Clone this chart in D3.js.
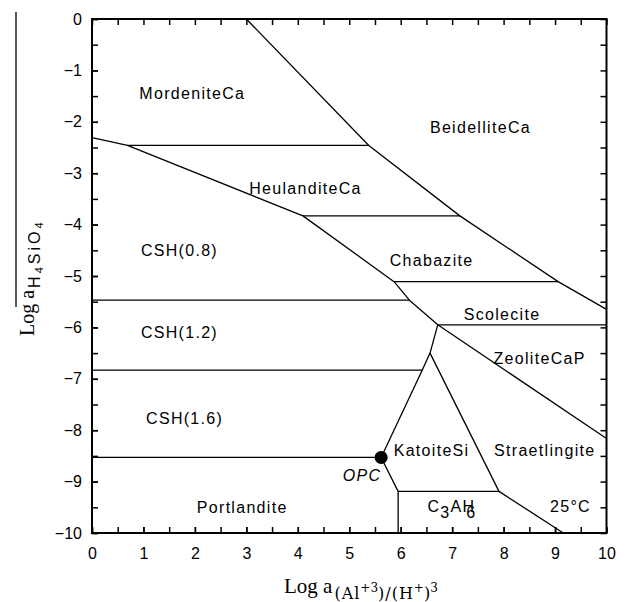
<!DOCTYPE html>
<html>
<head>
<meta charset="utf-8">
<script src="https://cdn.jsdelivr.net/npm/d3@7"></script>
<style>
  body { margin: 0; background: #fff; }
  .tick text { font-family: "Liberation Sans", Arial, sans-serif; font-size: 16px; fill: #000; }
  .field { font-family: "Liberation Sans", Arial, sans-serif; font-size: 16px; letter-spacing: 1.3px; fill: #000; }
  .title { font-family: "Liberation Serif", "DejaVu Serif", serif; fill: #000; }
</style>
</head>
<body>
<div id="chart"></div>
<script>
// axis ticks
const xMajor = [0, 1, 2, 3, 4, 5, 6, 7, 8, 9, 10];
const yMajor = [0, -1, -2, -3, -4, -5, -6, -7, -8, -9, -10];
const xMinor = d3.range(0, 10.01, 0.5);
const yMinor = d3.range(0, -10.01, -0.5);

// phase boundaries [log a(Al+3)/(H+)3, log a H4SiO4]
const beidelliteEdge = [[3.0, 0], [5.38, -2.46], [7.15, -3.83], [9.06, -5.11], [10, -5.65]];
const zeoliteCshEdge = [[0, -2.31], [0.69, -2.46], [4.10, -3.83], [5.87, -5.11], [6.17, -5.47],
    [6.72, -5.95], [6.57, -6.50], [6.42, -6.83], [5.62, -8.53], [5.95, -9.19], [5.95, -10]];
const katoiteEdge = [[6.57, -6.50], [7.91, -9.19], [9.16, -10]];
const straightEdges = [
    [[0.69, -2.46], [5.38, -2.46]],
    [[4.10, -3.83], [7.15, -3.83]],
    [[5.87, -5.11], [9.06, -5.11]],
    [[0, -5.47], [6.17, -5.47]],
    [[6.72, -5.95], [10, -5.95]],
    [[6.72, -5.95], [10, -8.16]],
    [[0, -6.83], [6.42, -6.83]],
    [[0, -8.53], [5.62, -8.53]],
    [[5.95, -9.19], [7.91, -9.19]]
];
const opcPoint = [5.62, -8.53];

// field names at their centre
const fieldLabels = [
    ['MordeniteCa', 1.95, -1.45],
    ['BeidelliteCa', 7.55, -2.1],
    ['HeulanditeCa', 4.15, -3.3],
    ['CSH(0.8)', 1.7, -4.5],
    ['Chabazite', 6.6, -4.7],
    ['Scolecite', 7.97, -5.75],
    ['CSH(1.2)', 1.7, -6.1],
    ['ZeoliteCaP', 8.7, -6.6],
    ['CSH(1.6)', 1.8, -7.77],
    ['KatoiteSi', 6.6, -8.4],
    ['Straetlingite', 8.8, -8.4],
    ['Portlandite', 2.92, -9.5]
];

const width = 626, height = 602;
const margin = { top: 19, right: 19.5, bottom: 69, left: 92 };

const svg = d3.select('#chart')
    .append('svg')
    .attr('width', width)
    .attr('height', height);

const x = d3.scaleLinear().domain([0, 10]).range([margin.left, width - margin.right]);
const y = d3.scaleLinear().domain([0, -10]).range([margin.top, height - margin.bottom]);

// ticks, all pointing inward
const tickLen = 6;
const styleAxis = g => {
    g.select('.domain').remove();
    g.selectAll('.tick line').attr('stroke', '#000').attr('stroke-width', 1.5);
};
svg.append('g').attr('transform', `translate(0,${y(-10)})`)
    .call(d3.axisBottom(x).tickValues(xMinor).tickSize(-tickLen).tickFormat(''))
    .call(styleAxis);
svg.append('g').attr('transform', `translate(0,${y(-10)})`)
    .call(d3.axisBottom(x).tickValues(xMajor).tickSize(-tickLen).tickPadding(15).tickFormat(d3.format('d')))
    .call(styleAxis);
svg.append('g').attr('transform', `translate(0,${y(0)})`)
    .call(d3.axisTop(x).tickValues(xMinor).tickSize(-tickLen).tickFormat(''))
    .call(styleAxis);
svg.append('g').attr('transform', `translate(${x(0)},0)`)
    .call(d3.axisLeft(y).tickValues(yMinor).tickSize(-tickLen).tickFormat(''))
    .call(styleAxis);
svg.append('g').attr('transform', `translate(${x(0)},0)`)
    .call(d3.axisLeft(y).tickValues(yMajor).tickSize(-tickLen).tickPadding(10)
        .tickFormat(d => d === 0 ? '0' : '\u2212' + Math.abs(d)))
    .call(styleAxis);
svg.append('g').attr('transform', `translate(${x(10)},0)`)
    .call(d3.axisRight(y).tickValues(yMinor).tickSize(-tickLen).tickFormat(''))
    .call(styleAxis);

// frame
svg.append('rect')
    .attr('x', x(0)).attr('y', y(0))
    .attr('width', x(10) - x(0)).attr('height', y(-10) - y(0))
    .attr('fill', 'none').attr('stroke', '#000').attr('stroke-width', 2);

// boundaries
const line = d3.line().x(d => x(d[0])).y(d => y(d[1]));
svg.append('g')
    .selectAll('path')
    .data([beidelliteEdge, zeoliteCshEdge, katoiteEdge].concat(straightEdges))
    .join('path')
    .attr('d', line)
    .attr('fill', 'none')
    .attr('stroke', '#000')
    .attr('stroke-width', 1.3)
    .attr('stroke-linejoin', 'round');

svg.append('circle')
    .attr('cx', x(opcPoint[0])).attr('cy', y(opcPoint[1]))
    .attr('r', 6.5).attr('fill', '#000');

svg.append('text').attr('class', 'field')
    .attr('x', x(opcPoint[0]) - 19).attr('y', y(opcPoint[1]) + 24)
    .attr('text-anchor', 'middle').attr('font-style', 'italic')
    .text('OPC');

svg.append('g')
    .selectAll('text')
    .data(fieldLabels)
    .join('text')
    .attr('class', 'field')
    .attr('x', d => x(d[1]))
    .attr('y', d => y(d[2]))
    .attr('dy', '0.35em')
    .attr('text-anchor', 'middle')
    .text(d => d[0]);

// C3AH6
const c3 = svg.append('text').attr('class', 'field')
    .attr('x', x(6.52)).attr('y', y(-9.6));
c3.append('tspan').text('C');
c3.append('tspan').attr('dy', 6).text('3');
c3.append('tspan').attr('dy', -6).text('AH');
c3.append('tspan').attr('dy', 6).attr('dx', -9).text('6');

// 25 °C
svg.append('text').attr('class', 'field')
    .attr('x', x(9.3)).attr('y', y(-9.6))
    .attr('text-anchor', 'middle').attr('letter-spacing', 0)
    .text('25\u00B0C');

// x title
const xt = svg.append('text').attr('class', 'title')
    .attr('x', 284).attr('y', 593).attr('font-size', 21);
xt.append('tspan').text('Log a');
const xSub = { 'font-family': '"DejaVu Serif", serif', 'letter-spacing': 1 };
xt.append('tspan').attr('font-family', xSub['font-family']).attr('letter-spacing', xSub['letter-spacing'])
    .attr('font-size', 16).attr('dx', 2).attr('dy', 6).text('(Al');
xt.append('tspan').attr('font-family', xSub['font-family']).attr('font-size', 12).attr('dy', -7).text('+3');
xt.append('tspan').attr('font-family', xSub['font-family']).attr('letter-spacing', xSub['letter-spacing'])
    .attr('font-size', 16).attr('dy', 7).text(')/(H');
xt.append('tspan').attr('font-family', xSub['font-family']).attr('font-size', 12).attr('dy', -7).text('+');
xt.append('tspan').attr('font-family', xSub['font-family']).attr('font-size', 16).attr('dy', 7).text(')');
xt.append('tspan').attr('font-family', xSub['font-family']).attr('font-size', 12).attr('dy', -7).text('3');

// y title
const yt = svg.append('text').attr('class', 'title')
    .attr('transform', 'translate(34,336) rotate(-90)').attr('font-size', 20);
yt.append('tspan').text('Log a');
yt.append('tspan').attr('font-family', '"Liberation Sans", Arial, sans-serif').attr('letter-spacing', 3)
    .attr('font-size', 16).attr('dx', 2).attr('dy', 6).text('H');
yt.append('tspan').attr('font-family', '"Liberation Sans", Arial, sans-serif').attr('letter-spacing', 3)
    .attr('font-size', 11).attr('dy', 3).text('4');
yt.append('tspan').attr('font-family', '"Liberation Sans", Arial, sans-serif').attr('letter-spacing', 3)
    .attr('font-size', 16).attr('dy', -3).text('SiO');
yt.append('tspan').attr('font-family', '"Liberation Sans", Arial, sans-serif')
    .attr('font-size', 11).attr('dy', 3).text('4');

svg.append('line')
    .attr('x1', 16).attr('x2', 16).attr('y1', 12).attr('y2', 307)
    .attr('stroke', '#000').attr('stroke-width', 1.3);
</script>
</body>
</html>
